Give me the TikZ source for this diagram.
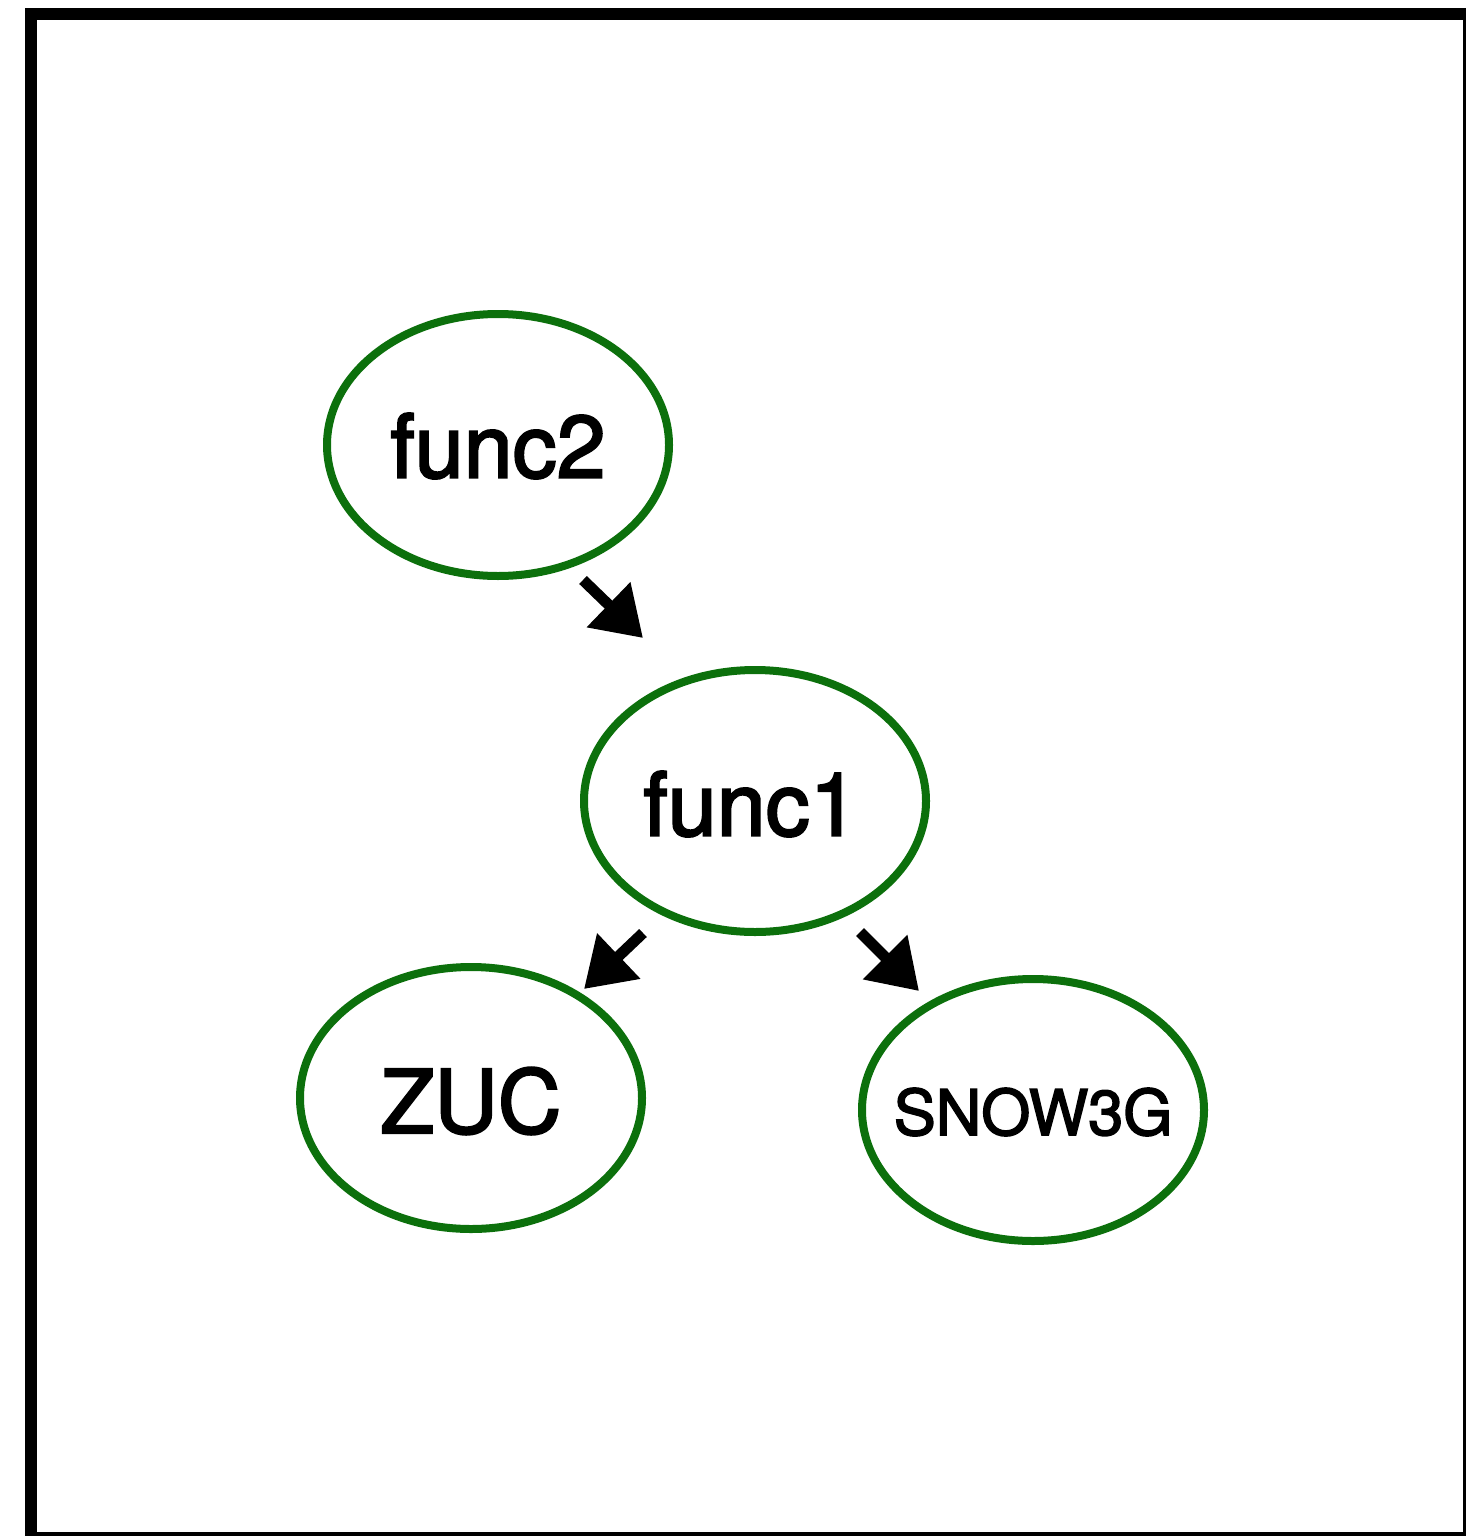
\documentclass[tikz,border=0pt]{standalone}
\usepackage{fontspec}
\setmainfont{TeX Gyre Heros}
\newfontfamily\medfont{TeX Gyre Heros}[FakeBold=2.5]
\usetikzlibrary{shapes.geometric,arrows.meta}
\definecolor{sketchgreen}{RGB}{12,112,12}
\tikzset{
  bubble/.style={ellipse, draw=sketchgreen, line width=8pt, minimum width=342pt, minimum height=262pt, inner sep=0pt, text=black},
  bigtext/.style={font=\medfont\fontsize{88}{88}\selectfont},
  smalltext/.style={font=\medfont\fontsize{63}{63}\selectfont},
  callarrow/.style={line width=11pt, black, -{Triangle[length=48pt,width=60pt]}},
  frame/.style={draw=black, line width=12pt}
}
\begin{document}
\begin{tikzpicture}[x=1pt,y=-1pt]
\useasboundingbox (0,0) rectangle (1466,1536);
\draw[frame] (31,14) rectangle (1469,1538);
\node[bubble] (func2) at (498,445) {};
\node[bigtext] (t2) at (498,446) {func2};
\node[bubble] (func1) at (755,801) {};
\node[bigtext] (t1) at (751,804) {func1};
\node[bubble] (zuc) at (471,1098) {};
\node[bigtext] (tz) at (471,1101) {ZUC};
\node[bubble] (snow) at (1033,1110) {};
\node[smalltext] (ts) at (1033,1112) {SNOW3G};
\coordinate (a1s) at (583,580);
\coordinate (a1e) at (643,638);
\coordinate (a2s) at (643,933);
\coordinate (a2e) at (584,989);
\coordinate (a3s) at (860,932);
\coordinate (a3e) at (919,991);
\draw[callarrow] (a1s) -- (a1e);
\draw[callarrow] (a2s) -- (a2e);
\draw[callarrow] (a3s) -- (a3e);
\end{tikzpicture}
\end{document}
